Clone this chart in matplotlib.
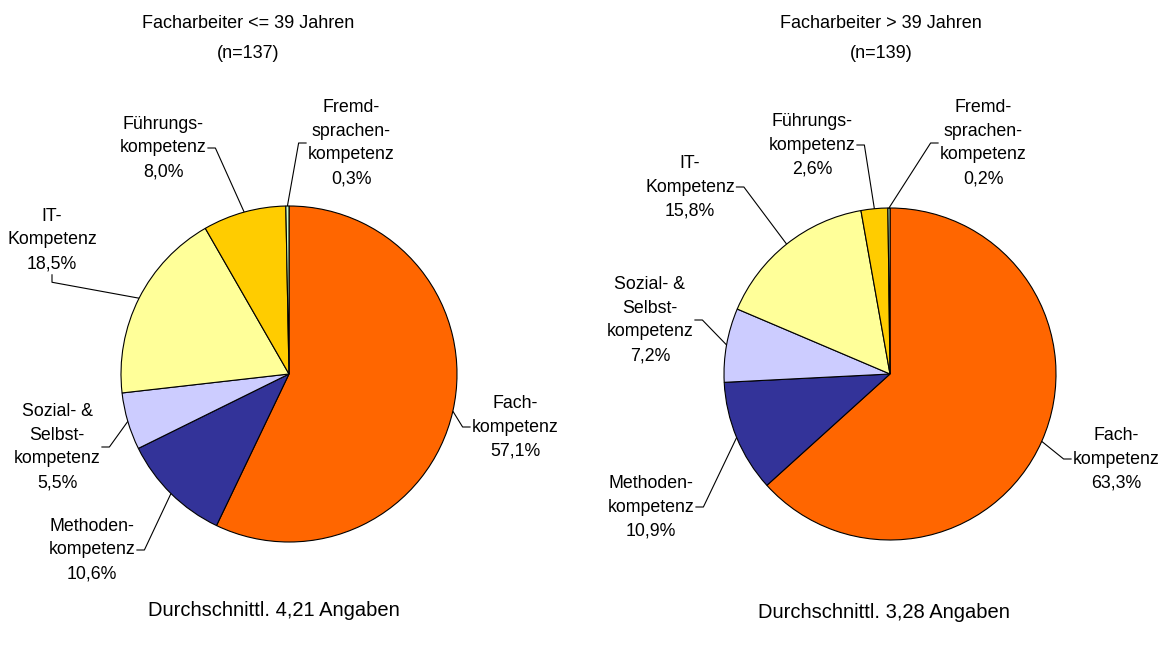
import matplotlib
matplotlib.use("Agg")
import matplotlib.pyplot as plt
import numpy as np

plt.rcParams["font.family"] = ["Liberation Sans", "DejaVu Sans"]

# data
categories = [
    "Fach-\nkompetenz",
    "Methoden-\nkompetenz",
    "Sozial- &\nSelbst-\nkompetenz",
    "IT-\nKompetenz",
    "Führungs-\nkompetenz",
    "Fremd-\nsprachen-\nkompetenz",
]
values_jung = [57.1, 10.6, 5.5, 18.5, 8.0, 0.3]
values_alt = [63.3, 10.9, 7.2, 15.8, 2.6, 0.2]
titles = ["Facharbeiter <= 39 Jahren", "Facharbeiter > 39 Jahren"]
subtitles = ["(n=137)", "(n=139)"]
footers = ["Durchschnittl. 4,21 Angaben", "Durchschnittl. 3,28 Angaben"]

colors = ["#FF6600", "#333399", "#CCCCFF", "#FFFF99", "#FFCC00", "#CCFFCC"]

W, H = 1166, 657
fig = plt.figure(figsize=(W / 100, H / 100), dpi=100)
ax = fig.add_axes([0, 0, 1, 1])

# layout in pixels (y down): pie centre, radius, title, footer, label centres + leader side
panels = [
    dict(values=values_jung, center=(289, 374), r=168,
         title=(248, 23), sub=(248, 53), footer=(274, 610),
         labels=[(515, 427, "left"), (92, 550, "right"), (57, 447, "right"),
                 (52, 240, "bottom"), (163, 148, "right"), (351, 143, "left")]),
    dict(values=values_alt, center=(890, 374), r=166,
         title=(881, 23), sub=(881, 53), footer=(884, 613),
         labels=[(1116, 459, "left"), (651, 507, "right"), (650, 320, "right"),
                 (690, 187, "right"), (812, 145, "right"), (983, 143, "left")]),
]

fs_lbl = 12.8
fs_title = 13
fs_foot = 14.5

all_wedges = []
for p in panels:
    wedges, _ = ax.pie(p["values"], colors=colors, center=p["center"], radius=p["r"],
                       startangle=-90, counterclock=True,
                       wedgeprops=dict(edgecolor="black", linewidth=0.8))
    all_wedges.append(wedges)

ax.set_xlim(0, W)
ax.set_ylim(H, 0)
ax.set_aspect("equal")
ax.axis("off")

texts = []
for p, title, sub, footer in zip(panels, titles, subtitles, footers):
    ax.text(*p["title"], title, ha="center", va="center", fontsize=fs_title)
    ax.text(*p["sub"], sub, ha="center", va="center", fontsize=fs_title)
    ax.text(*p["footer"], footer, ha="center", va="center", fontsize=fs_foot)
    row = []
    for (lx, ly, side), cat, v in zip(p["labels"], categories, p["values"]):
        s = cat + "\n" + f"{v:.1f}".replace(".", ",") + "%"
        t = ax.text(lx, ly, s, ha="center", va="center", fontsize=fs_lbl,
                    multialignment="center", linespacing=1.52)
        row.append(t)
    texts.append(row)

fig.canvas.draw()
renderer = fig.canvas.get_renderer()
inv = ax.transData.inverted()

for p, wedges, row in zip(panels, all_wedges, texts):
    cx, cy = p["center"]
    for w, t, (lx, ly, side) in zip(wedges, row, p["labels"]):
        th = np.deg2rad((w.theta1 + w.theta2) / 2)
        ex, ey = cx + p["r"] * np.cos(th), cy + p["r"] * np.sin(th)
        bb = t.get_window_extent(renderer)
        (x0, y0), (x1, y1) = inv.transform([(bb.x0, bb.y0), (bb.x1, bb.y1)])
        ybot = max(y0, y1)
        if side == "left":
            ax_, ay_ = x0 - 1, ly
            bx, by = ax_ - 8, ly
        elif side == "right":
            ax_, ay_ = x1 + 1, ly
            bx, by = ax_ + 8, ly
        else:
            ax_, ay_ = lx, ybot + 2
            bx, by = lx, ay_ + 8
        ax.plot([ex, bx, ax_], [ey, by, ay_], color="black", lw=0.8,
                solid_capstyle="butt")

fig.savefig("out.png", dpi=100)
